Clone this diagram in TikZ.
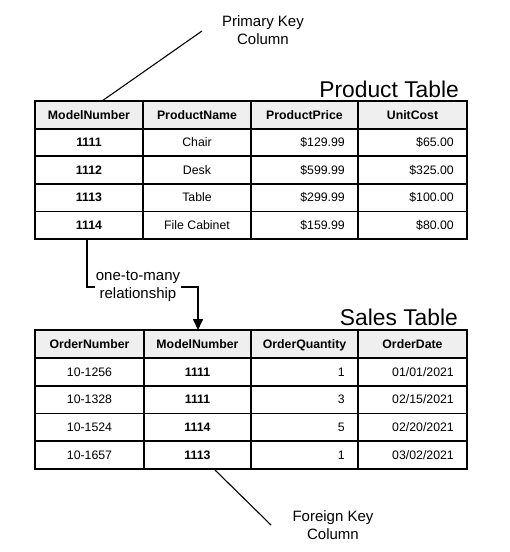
\documentclass[tikz,border=0pt]{standalone}
\usepackage{fontspec}
\setmainfont{Liberation Sans}
\usetikzlibrary{arrows.meta}
\definecolor{hdrgray}{HTML}{EFEFEF}
\begin{document}
\begin{tikzpicture}[x=1pt,y=-1pt,
  cellbase/.style={inner sep=0pt, text height=8.6pt, text depth=0pt, font=\fontsize{12.3}{14}\selectfont},
  hdr/.style={cellbase, font=\fontsize{12.3}{14}\selectfont\bfseries},
  keyval/.style={cellbase, font=\fontsize{12.3}{14}\selectfont\bfseries},
  numval/.style={cellbase, anchor=east},
  title/.style={anchor=base east, inner sep=0pt, font=\fontsize{22.8}{26}\selectfont},
  note/.style={align=center, inner sep=1pt, font=\fontsize{15}{18.5}\selectfont},
  gridline/.style={line width=1.8pt},
  frame/.style={line width=2.4pt},
  leader/.style={line width=1.1pt},
  link/.style={line width=1.6pt, -{Triangle[width=10pt,length=11pt]}}
]
\useasboundingbox (0,0) rectangle (510,552);

% ---------- Product table ----------
\fill[hdrgray] (35,101) rectangle (467,128.6);
\foreach \y in {128.6,156.2,183.8,211.4} \draw[gridline] (35,\y) -- (467,\y);
\foreach \x in {143,251,358} \draw[gridline] (\x,101) -- (\x,239);
\draw[frame] (35,101) rectangle (467,239);
\node[title] (ptitle) at (459,97) {Product Table};

\node[hdr] (ph1) at (89,114.8) {ModelNumber};
\node[hdr] (ph2) at (197,114.8) {ProductName};
\node[hdr] (ph3) at (304.5,114.8) {ProductPrice};
\node[hdr] (ph4) at (412.5,114.8) {UnitCost};

\foreach \i/\y/\m/\n/\p/\c in {1/142.4/1111/Chair/129.99/65.00,
                               2/170.0/1112/Desk/599.99/325.00,
                               3/197.6/1113/Table/299.99/100.00,
                               4/225.2/1114/File Cabinet/159.99/80.00}{
  \node[keyval] (pm\i) at (89,\y) {\m};
  \node[cellbase] (pn\i) at (197,\y) {\n};
  \node[numval] (pp\i) at (345,\y) {\$\p};
  \node[numval] (pc\i) at (454,\y) {\$\c};
}

% ---------- Sales table ----------
\fill[hdrgray] (35,330) rectangle (467,357.8);
\foreach \y in {357.8,385.6,413.4,441.2} \draw[gridline] (35,\y) -- (467,\y);
\foreach \x in {144,251,358} \draw[gridline] (\x,330) -- (\x,469);
\draw[frame] (35,330) rectangle (467,469);
\node[title] (stitle) at (458,325) {Sales Table};

\node[hdr] (sh1) at (89.5,343.9) {OrderNumber};
\node[hdr] (sh2) at (197.5,343.9) {ModelNumber};
\node[hdr] (sh3) at (304.5,343.9) {OrderQuantity};
\node[hdr] (sh4) at (412.5,343.9) {OrderDate};

\foreach \i/\y/\o/\m/\q/\d in {1/371.7/10-1256/1111/1/{01/01/2021},
                               2/399.5/10-1328/1111/3/{02/15/2021},
                               3/427.3/10-1524/1114/5/{02/20/2021},
                               4/455.1/10-1657/1113/1/{03/02/2021}}{
  \node[cellbase] (so\i) at (89.5,\y) {\o};
  \node[keyval] (sm\i) at (197.5,\y) {\m};
  \node[numval] (sq\i) at (345,\y) {\q};
  \node[numval] (sd\i) at (454,\y) {\d};
}

% ---------- Callouts ----------
\node[note] (pklabel) at (263,30) {Primary Key\\Column};
\coordinate (pkend) at (202,31);
\coordinate (pktop) at (102,101);
\draw[leader] (pkend) -- (pktop);

\node[note] (fklabel) at (333,525) {Foreign Key\\Column};
\coordinate (fktop) at (215,470);
\coordinate (fkend) at (271,525);
\draw[leader] (fktop) -- (fkend);

% ---------- Relationship arrow ----------
\coordinate (relfrom) at (87,240);
\coordinate (relto) at (198,330);
\draw[link] (relfrom) |- (150,287) -| (relto);
\node[note, fill=white] (rel) at (138,286) {one-to-many\\relationship};
\end{tikzpicture}
\end{document}
